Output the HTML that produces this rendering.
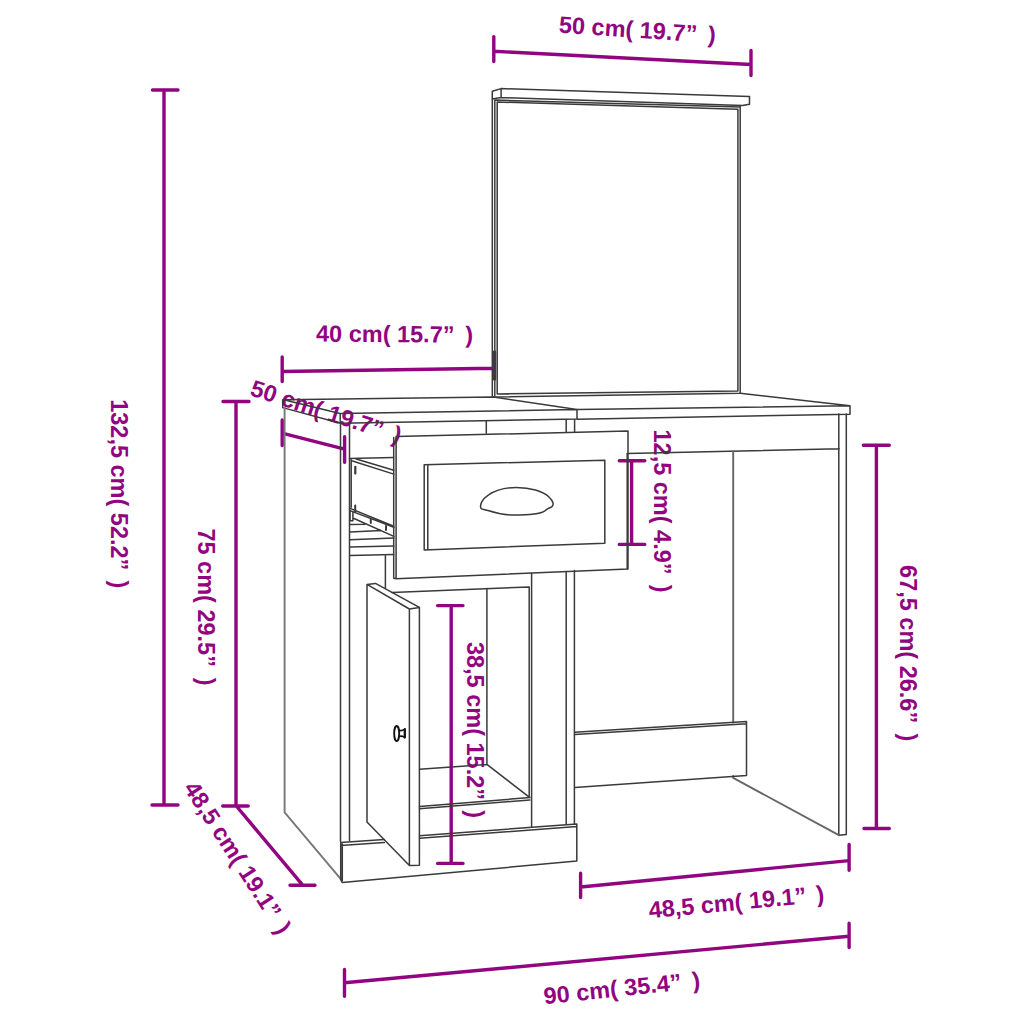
<!DOCTYPE html>
<html><head><meta charset="utf-8">
<style>
html,body{margin:0;padding:0;background:#fff;width:1024px;height:1024px;overflow:hidden}
svg{display:block}
.k{stroke:#3a3a3a;stroke-width:1.5;fill:none;stroke-linecap:round;stroke-linejoin:round}
.p{stroke:#920580;stroke-width:3.4;fill:none;stroke-linecap:round}
.t{font-family:"Liberation Sans",sans-serif;font-weight:bold;font-size:23.5px;fill:#920580}
</style></head><body>
<svg width="1024" height="1024" viewBox="0 0 1024 1024">
<g class="p">
<path d="M493.8 51.3 L751 64.5 M493.8 36.6 V61.5 M751 50.4 V75.6"/>
<path d="M164 90 V805 M152.5 90 H178 M152 805 H178"/>
<path d="M236 401.5 V806 M223 401.5 H249 M222.7 806 H248.2 M236.3 806 L302.7 885.2 M290 885.2 H315"/>
<path d="M282.2 371.5 L494.5 368.2 M282.2 357 V381.5 M494.5 352 V379"/>
<path d="M283 433.3 L344.6 449.1 M282.2 420 V445.6 M344.6 436.8 V462.3"/>
<path d="M631.6 460.8 V544.4 M619.3 460.8 H644.8 M619.3 544.4 H644.8"/>
<path d="M451.2 605.6 V863.4 M437.6 605.6 H463 M437.6 863.4 H463"/>
<path d="M876.4 445.3 V828.5 M863.4 445.3 H889.3 M864 828.5 H889.3"/>
<path d="M580.6 887 L849.1 860.6 M580.6 873.3 V897.5 M849.1 844.5 V870.3"/>
<path d="M344.5 982.8 L849.1 936.3 M344.5 969.5 V996.2 M849.1 923.3 V947.5"/>
</g>
<g class="t">
<g transform="translate(558.5,32.6) rotate(3.8)"><text>50 cm( 19.7”</text><text x="149.3">)</text></g>
<g transform="translate(316,341.6) rotate(0.4)"><text>40 cm( 15.7”</text><text x="149.3">)</text></g>
<g transform="translate(249,395) rotate(18)"><text>50 cm( 19.7”</text><text x="149.3">)</text></g>
<g transform="translate(110.5,399.2) rotate(90)"><text>132,5 cm( 52.2”</text><text x="181.3">)</text></g>
<g transform="translate(198.4,528.4) rotate(90)"><text>75 cm( 29.5”</text><text x="149.3">)</text></g>
<g transform="translate(654,429.5) rotate(90)"><text>12,5 cm( 4.9”</text><text x="155.3">)</text></g>
<g transform="translate(466.9,641.9) rotate(90)"><text>38,5 cm( 15.2”</text><text x="168.3">)</text></g>
<g transform="translate(899.8,565.1) rotate(90)"><text>67,5 cm( 26.6”</text><text x="168.3">)</text></g>
<g transform="translate(649.5,918.3) rotate(-5.4)"><text>48,5 cm( 19.1”</text><text x="168.3">)</text></g>
<g transform="translate(544.5,1004.3) rotate(-6)"><text>90 cm( 35.4”</text><text x="149.3">)</text></g>
<g transform="translate(182.9,788) rotate(57)"><text>48,5 cm( 19.1”</text><text x="168.3">)</text></g>
</g>
<g class="k">
<!-- mirror cap -->
<path d="M492.3 91.2 L501.1 88.6 L749.5 96.6 L749.5 104.2 L742.5 105.6 L501.1 97.6 L492.3 99 Z M501.1 88.6 V97.6"/>
<!-- mirror frame -->
<path d="M492.3 99 V397 M494.8 100 V395.5 M497.2 102 V394 M494.8 100 L740.2 107 M497.2 102 L737.9 109.2 M740.2 105.5 V393.2 M737.9 109.2 V390.9 M493.5 397 L740.2 393.2 M497.2 394 L737.9 390.9"/>
<!-- table tops -->
<path d="M283.7 399.8 L493.5 397 L577 409.5 M283.7 399.8 L340 413.6 L577 409.5 M282.7 399.8 V407.6 L340.3 423.2 L577.5 419 M340.2 413.6 V423.2 M577 409.5 V419"/>
<path d="M740.2 393.2 L850 405.8 V414.2 L577.5 419.2 M577 409.5 L850 405.8"/>
<!-- apron & right leg -->
<path d="M627.4 453.5 L839.3 448.8 M846.3 414 V834.5 L838.8 835.3 V414 "/>
<path d="M733.2 451.3 V722.5 M733.2 776 V777.9 L839.3 835.3" style="stroke:#666;stroke-width:1.9"/>
<!-- back rail -->
<path d="M574.8 732.3 L746.5 721.5 V775.4 L574.8 787.5 M574.8 734.6 L746.5 723.8"/>
<!-- left cabinet side -->
<path d="M284.6 407.6 V812.3 L341.3 879.6" style="stroke:#777;stroke-width:1.9"/>
<path d="M340.5 423.2 V841.6 M349.5 423.2 V840.6"/>
<!-- plinth left -->
<path d="M340.7 842.5 L384.3 839.6 M340.7 845.5 L384.3 842.6 M342.3 844 V880.5 M340.7 842.5 V879.6 L342.3 882.6 L576.8 861 V824 L419.5 835.7 M419.5 838.3 L576.8 826.5"/>
<!-- inner top rail vertical -->
<path d="M486.3 421.5 V433.2 M566.2 419.5 V432 M574.6 419.5 V432"/>
<!-- opening top -->
<path d="M349.5 458.6 L393.5 457.6"/>
<!-- drawer box side -->
<path d="M356.2 459 L393.8 470.2 M351.7 460.7 L393.8 474.1 M351.2 459.5 V507.2 M350 508.4 L393.8 526.3 M350 510.6 L393.8 527.4 M354 518.5 L393.8 536.4 M350 510.6 V520.7 H352.9 V511.8 M350 524.6 L365 524.2 M350 532 L381 530.4 M350 539.8 L393.8 538.1 M350 547.1 L393.8 546 M350 555.5 L393.8 554.4 M385.4 555.5 V588.3"/>
<path d="M355.3 466.8 V473.6" style="stroke-width:2.2"/>
<path d="M355.2 505.5 V512 M370.8 519.5 V523 M386 526 V530" style="stroke-width:2"/>
<!-- drawer front -->
<path d="M396.1 436.6 L628 431 V568.9 L396.1 578.7 Z M393.7 437.5 V578.2 L396.1 578.7"/>
<path d="M424.2 464.7 L604.8 460.3 V543.3 L424.2 549.9 Z M427.8 464.8 V549.6"/>
<path d="M481 508.5 C479.5 505 482 499 488.6 494.8 C495 490.5 505 487.4 516.4 487.4 C530 487.4 543 491 549 497 C553 501 554.5 504.5 551.6 506.9 C549 508 547.5 508.5 545 510.8 C541 513.5 530 515 513.6 515 C503 515 494 512.5 488 510.5 C484 509.5 482 509.3 481 508.5 Z"/>
<!-- below drawer -->
<path d="M392 592.6 L529.2 587 M529.2 587 V797.6 M531.6 573.4 V826.5 M566.2 571.5 V824 M574.4 570.5 V824 M627.2 568.9 V453.5"/>
<!-- interior -->
<path d="M486.9 588.6 V764.4 L419.5 769.3 M486.9 764.4 L529.9 797.6 L419.5 806.4 M529.9 800 L419.5 808.8"/>
<!-- door -->
<path d="M367 584.4 L375.5 583.4 L419.4 607.4 L409.4 609 Z M367 584.4 V822 L409.4 865.5 V609 M419.4 607.4 V865.2 L409.4 865.5"/>
<ellipse cx="396.7" cy="733.5" rx="2.5" ry="7.5" style="stroke-width:1.9;stroke:#111"/>
<path d="M399 730.2 Q401.5 731.3 404.6 729.4 M399 736.6 Q401.5 735.4 404.6 737.4" style="stroke:#111;stroke-width:1.6"/>
<path d="M404.8 729.2 V737.6" style="stroke:#111;stroke-width:2.3"/>
</g>
</svg>
</body></html>
